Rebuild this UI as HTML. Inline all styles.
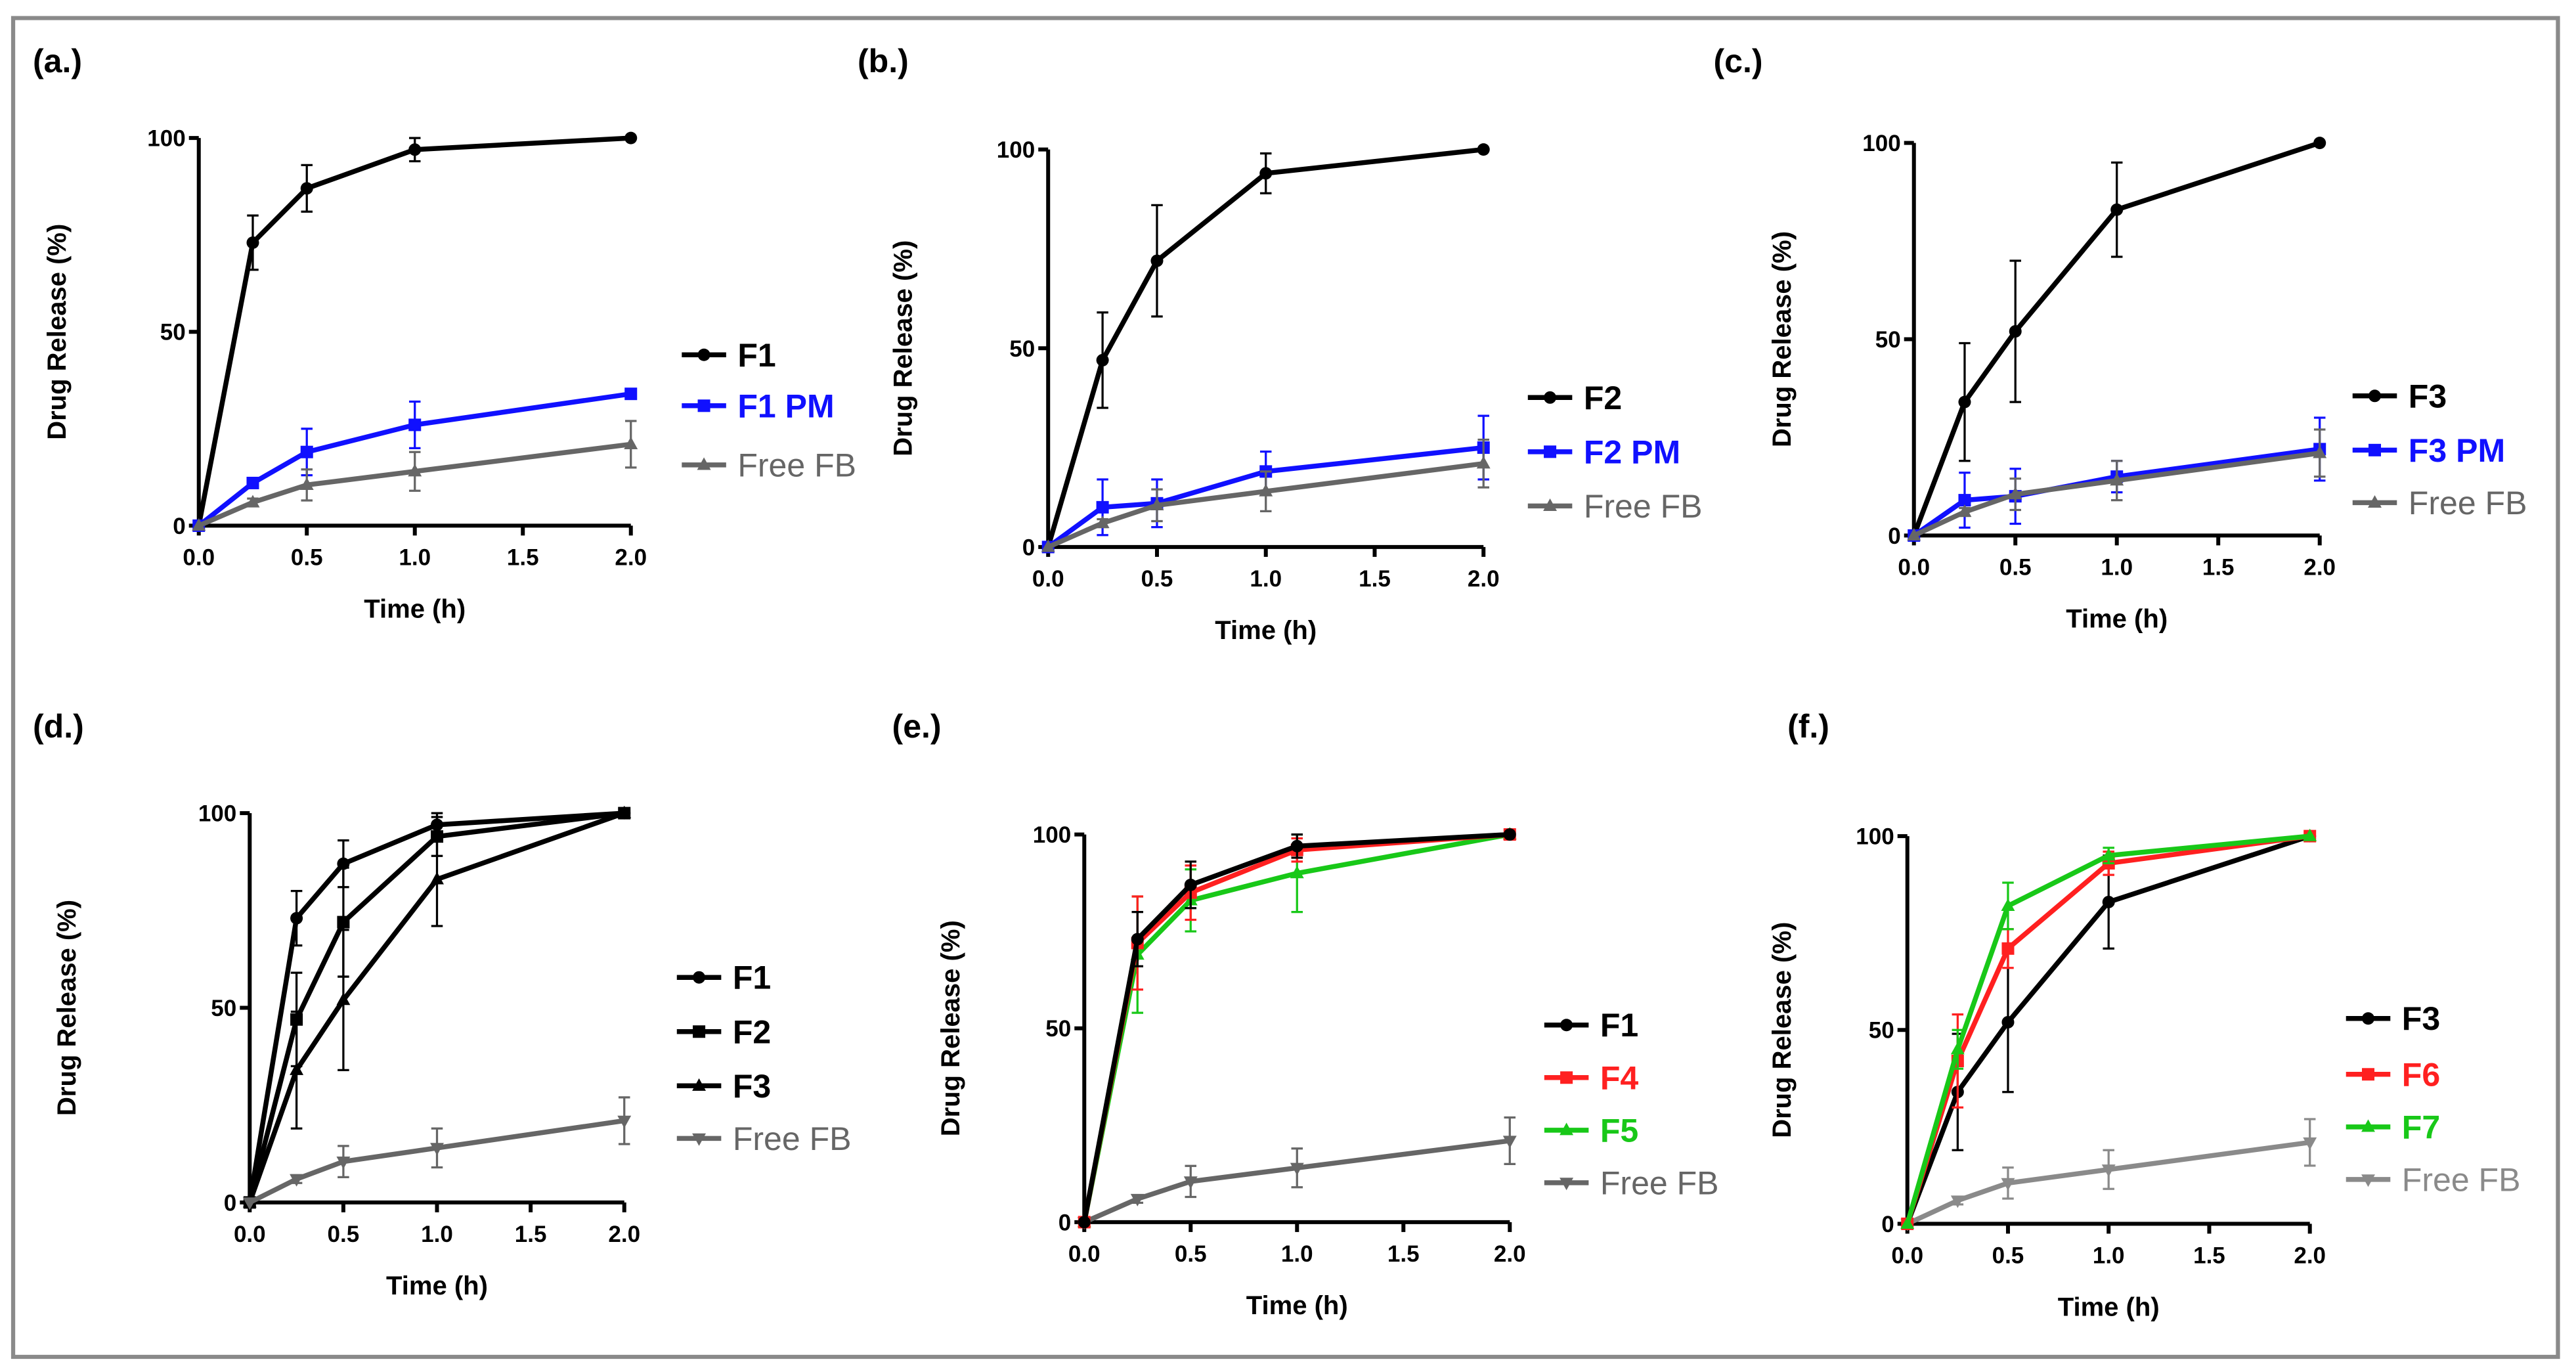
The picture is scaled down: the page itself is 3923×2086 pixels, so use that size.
<!DOCTYPE html>
<html><head><meta charset="utf-8">
<style>
html,body{margin:0;padding:0;background:#fff;}
svg{display:block;}
text{font-family:"Liberation Sans",sans-serif;}
</style></head>
<body>
<svg id="chart" width="3923" height="2086" viewBox="0 0 1568 834" preserveAspectRatio="none" xmlns="http://www.w3.org/2000/svg">
<rect x="8" y="11" width="1549" height="815" fill="#fff" stroke="#8a8a8a" stroke-width="2.5"/>
</svg>
<script>
const times = [0, 0.25, 0.5, 1, 2];
const xTicks = [0, 0.5, 1, 1.5, 2];
const xTickLabels = ["0.0", "0.5", "1.0", "1.5", "2.0"];
const yTicks = [0, 50, 100];
const yTickLabels = ["0", "50", "100"];

const f1 = [0, 73, 87, 97, 100];      const f1Err = [0, 7, 6, 3, 0];
const f1pm = [0, 11, 19, 26, 34];     const f1pmErr = [0, 1, 6, 6, 1];
const free = [0, 6, 10.5, 14, 21];    const freeErr = [0, 1, 4, 5, 6];
const f2 = [0, 47, 72, 94, 100];      const f2Err = [0, 12, 14, 5, 0];
const f2pm = [0, 10, 11, 19, 25];     const f2pmErr = [0, 7, 6, 5, 8];
const f3 = [0, 34, 52, 83, 100];      const f3Err = [0, 15, 18, 12, 0];
const f3pm = [0, 9, 10, 15, 22];      const f3pmErr = [0, 7, 7, 4, 8];
const f4 = [0, 72, 85, 96, 100];      const f4Err = [0, 12, 7, 3, 0];
const f5 = [0, 69, 83, 90, 100];      const f5Err = [0, 15, 8, 10, 0];
const f6 = [0, 42, 71, 93, 100];      const f6Err = [0, 12, 5, 3, 0];
const f7 = [0, 45, 82, 95, 100];      const f7Err = [0, 5, 6, 2, 0];

const BLACK="#000", BLUE="#1010ff", GRAY="#666", LGRAY="#8a8a8a", RED="#ff2020", GREEN="#18c818";

const panels = [
 {id:"a", label:"(a.)", lx:20, ly:44, x0:121, x2:384, y0:320, y100:84, ytx:40, legX:415, legY:[216,247,283],
  series:[["F1",f1,f1Err,BLACK,"circle"],["F1 PM",f1pm,f1pmErr,BLUE,"square"],["Free FB",free,freeErr,GRAY,"tri"]]},
 {id:"b", label:"(b.)", lx:522, ly:44, x0:638, x2:903, y0:333, y100:91, ytx:555, legX:930, legY:[242,275,308],
  series:[["F2",f2,f2Err,BLACK,"circle"],["F2 PM",f2pm,f2pmErr,BLUE,"square"],["Free FB",free,freeErr,GRAY,"tri"]]},
 {id:"c", label:"(c.)", lx:1043, ly:44, x0:1165, x2:1412, y0:326, y100:87, ytx:1090, legX:1432, legY:[241,274,306],
  series:[["F3",f3,f3Err,BLACK,"circle"],["F3 PM",f3pm,f3pmErr,BLUE,"square"],["Free FB",free,freeErr,GRAY,"tri"]]},
 {id:"d", label:"(d.)", lx:20, ly:449, x0:152, x2:380, y0:732, y100:495, ytx:46, legX:412, legY:[595,628,661,693],
  series:[["F1",f1,f1Err,BLACK,"circle"],["F2",f2,f2Err,BLACK,"square"],["F3",f3,f3Err,BLACK,"tri"],["Free FB",free,freeErr,GRAY,"dtri"]]},
 {id:"e", label:"(e.)", lx:543, ly:449, x0:660, x2:919, y0:744, y100:508, ytx:584, legX:940, legY:[624,656,688,720],
  series:[["Free FB",free,freeErr,GRAY,"dtri"],["F5",f5,f5Err,GREEN,"tri"],["F4",f4,f4Err,RED,"square"],["F1",f1,f1Err,BLACK,"circle"]], legOrder:[3,2,1,0]},
 {id:"f", label:"(f.)", lx:1088, ly:449, x0:1161, x2:1406, y0:745, y100:509, ytx:1090, legX:1428, legY:[620,654,686,718],
  series:[["Free FB",free,freeErr,LGRAY,"dtri"],["F3",f3,f3Err,BLACK,"circle"],["F6",f6,f6Err,RED,"square"],["F7",f7,f7Err,GREEN,"tri"]], legOrder:[1,2,3,0]}
];

const svg = document.getElementById("chart");
const NS = "http://www.w3.org/2000/svg";
function mk(tag, attrs, parent){const e=document.createElementNS(NS,tag);for(const k in attrs)e.setAttribute(k,attrs[k]);(parent||svg).appendChild(e);return e;}

function marker(g, shape, x, y, color, r){
  let m;
  if(shape==="circle") m=mk("circle",{cx:x,cy:y,r:r,fill:color},g);
  else if(shape==="square") m=mk("rect",{x:x-r,y:y-r,width:2*r,height:2*r,fill:color},g);
  else if(shape==="tri") m=mk("polygon",{points:`${x},${y-r*1.2} ${x-r*1.1},${y+r*0.8} ${x+r*1.1},${y+r*0.8}`,fill:color},g);
  else m=mk("polygon",{points:`${x},${y+r*1.2} ${x-r*1.1},${y-r*0.8} ${x+r*1.1},${y-r*0.8}`,fill:color},g);
  return m;
}

panels.forEach(p=>{
  const g = mk("g",{});
  
  
  const xs = t => p.x0 + (p.x2-p.x0)*t/2;
  const ys = v => p.y0 - (p.y0-p.y100)*v/100;

  const lab = mk("text",{x:p.lx,y:p.ly,"font-size":20,"font-weight":"bold",fill:"#000"},g);
  lab.textContent = p.label;
  
  

  const ax = mk("g",{stroke:"#000","stroke-width":2.4},g);
  
  
  mk("line",{x1:p.x0,y1:p.y0,x2:p.x2,y2:p.y0},ax);
  mk("line",{x1:p.x0,y1:p.y0,x2:p.x0,y2:ys(100)},ax);
  xTicks.forEach((t,i)=>{
    mk("line",{x1:xs(t),y1:p.y0,x2:xs(t),y2:p.y0+6},ax);
    const tl = mk("text",{x:xs(t),y:p.y0+24,"font-size":14,"font-weight":"bold","text-anchor":"middle",fill:"#000",stroke:"none"},g);
    tl.textContent = xTickLabels[i];
    
    
  });
  yTicks.forEach((v,i)=>{
    mk("line",{x1:p.x0-6,y1:ys(v),x2:p.x0,y2:ys(v)},ax);
    const tl = mk("text",{x:p.x0-8,y:ys(v)+5,"font-size":14,"font-weight":"bold","text-anchor":"end",fill:"#000",stroke:"none"},g);
    tl.textContent = yTickLabels[i];
    
    
  });
  const xt = mk("text",{x:(p.x0+p.x2)/2,y:p.y0+56,"font-size":16,"font-weight":"bold","text-anchor":"middle",fill:"#000"},g);
  xt.textContent = "Time (h)";
  
  
  const yc = (p.y0+p.y100)/2;
  const yt = mk("text",{x:p.ytx,y:yc,"font-size":16,"font-weight":"bold","text-anchor":"middle",fill:"#000",transform:`rotate(-90 ${p.ytx} ${yc})`},g);
  yt.textContent = "Drug Release (%)";
  
  

  p.series.forEach(s=>{
    const [name, vals, errs, color, shape] = s;
    const sg = mk("g",{},g);
    
    
    times.forEach((t,i)=>{
      if(errs[i]>0){
        const x=xs(t), a=ys(vals[i]+errs[i]), b=ys(vals[i]-errs[i]);
        mk("path",{d:`M${x},${a}V${b}M${x-3.5},${a}H${x+3.5}M${x-3.5},${b}H${x+3.5}`,stroke:color,"stroke-width":1.3,fill:"none"},sg);
      }
    });
    const pts = times.map((t,i)=>xs(t)+","+ys(vals[i])).join(" ");
    const line = mk("polyline",{points:pts,fill:"none",stroke:color,"stroke-width":3,"stroke-linejoin":"round"},sg);
    
    
    times.forEach((t,i)=>{
      const m = marker(sg, shape, xs(t), ys(vals[i]), color, 3.8);
      
      
    });
  });

  const order = p.legOrder || p.series.map((_,i)=>i);
  order.forEach((si,k)=>{
    const s = p.series[si];
    const y = p.legY[k];
    const lg = mk("g",{},g);
    
    
    mk("line",{x1:p.legX,y1:y,x2:p.legX+27,y2:y,stroke:s[3],"stroke-width":3},lg);
    marker(lg, s[4], p.legX+13.5, y, s[3], 3.8);
    const tx = mk("text",{x:p.legX+34,y:y+7,"font-size":20,"font-weight":(s[3]===GRAY||s[3]===LGRAY)?"normal":"bold",fill:s[3]},lg);
    tx.textContent = s[0];
  });
});
</script>
</body></html>
